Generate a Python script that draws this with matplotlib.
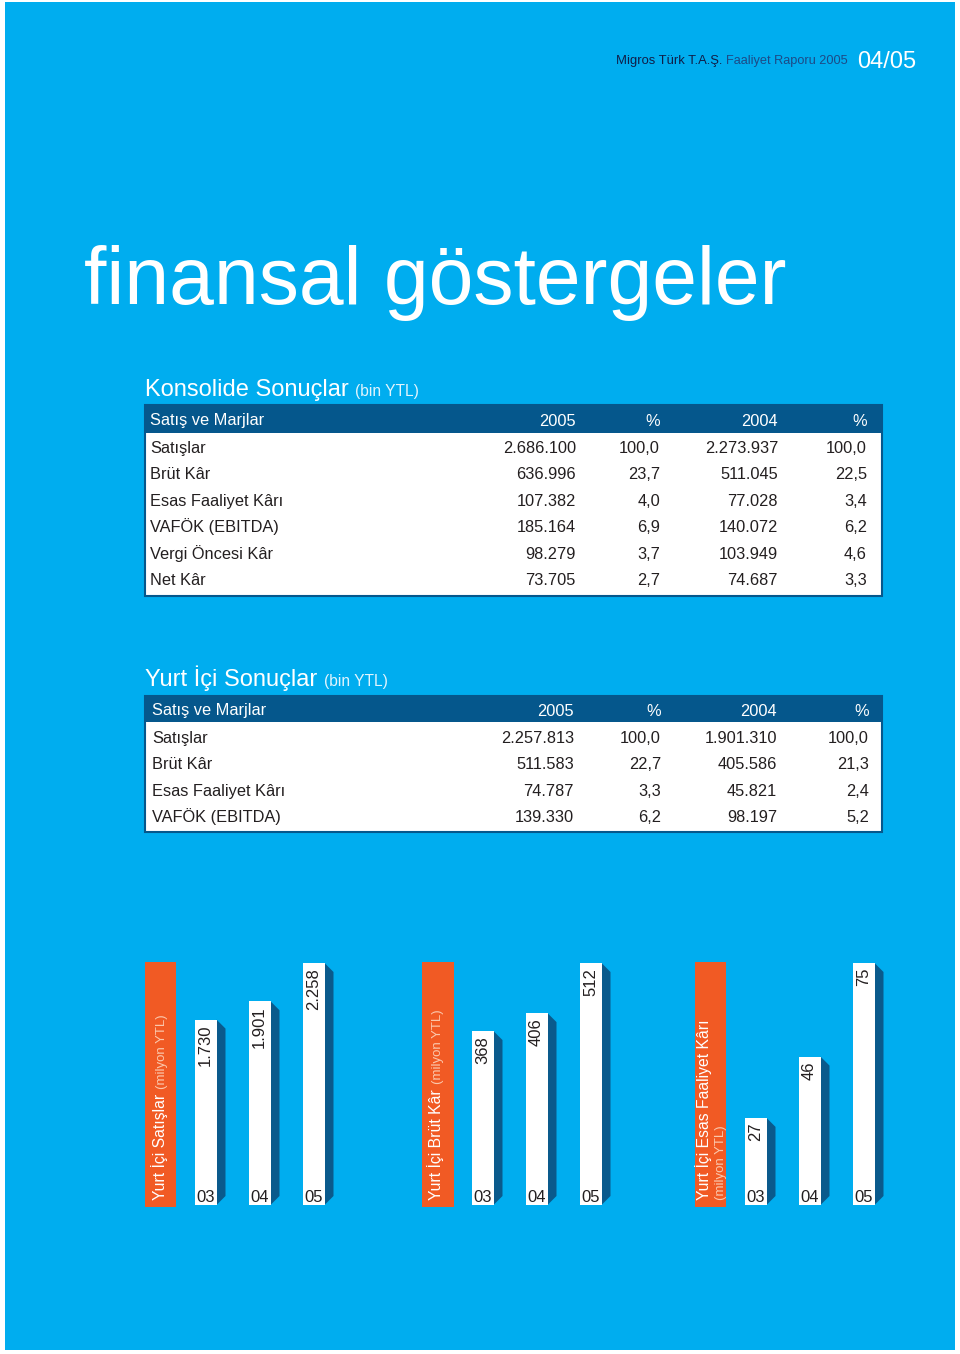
import matplotlib
matplotlib.use('Agg')
import matplotlib.pyplot as plt
from matplotlib.patches import Rectangle, Polygon

plt.rcParams['font.family'] = ['Liberation Sans', 'DejaVu Sans']

# --- data ---
header_cols = ['Satış ve Marjlar', '2005', '%', '2004', '%']

kons_rows = ['Satışlar', 'Brüt Kâr', 'Esas Faaliyet Kârı', 'VAFÖK (EBITDA)',
             'Vergi Öncesi Kâr', 'Net Kâr']
kons_2005 = ['2.686.100', '636.996', '107.382', '185.164', '98.279', '73.705']
kons_pct05 = ['100,0', '23,7', '4,0', '6,9', '3,7', '2,7']
kons_2004 = ['2.273.937', '511.045', '77.028', '140.072', '103.949', '74.687']
kons_pct04 = ['100,0', '22,5', '3,4', '6,2', '4,6', '3,3']

yurt_rows = ['Satışlar', 'Brüt Kâr', 'Esas Faaliyet Kârı', 'VAFÖK (EBITDA)']
yurt_2005 = ['2.257.813', '511.583', '74.787', '139.330']
yurt_pct05 = ['100,0', '22,7', '3,3', '6,2']
yurt_2004 = ['1.901.310', '405.586', '45.821', '98.197']
yurt_pct04 = ['100,0', '21,3', '2,4', '5,2']

years = ['03', '04', '05']
sales = [1730, 1901, 2258]
sales_lbl = ['1.730', '1.901', '2.258']
gross = [368, 406, 512]
gross_lbl = ['368', '406', '512']
ebit = [27, 46, 75]
ebit_lbl = ['27', '46', '75']

# --- colours ---
BLUE = '#00adef'
DARK = '#05578c'
SHADOW = '#0a5a8c'
ORANGE = '#f15a24'
TXT = '#231f20'

W, H = 960, 1354
fig = plt.figure(figsize=(W / 100, H / 100), dpi=100, facecolor='white')
ax = fig.add_axes([0, 0, 1, 1])
ax.set_xlim(0, W)
ax.set_ylim(H, 0)
ax.axis('off')
ax.add_patch(Rectangle((5, 2), 950, 1348, fc=BLUE, ec='none'))

fig.canvas.draw()
rend = fig.canvas.get_renderer()


def text_run(x, y, parts, ha='left'):
    # place pieces of text one after another on one baseline
    items = []
    for s, size, color in parts:
        t = ax.text(0, y, s, fontsize=size, color=color, va='baseline', ha='left')
        items.append((t, t.get_window_extent(renderer=rend).width))
    total = sum(w for _, w in items)
    cx = x - total if ha == 'right' else x
    for t, w in items:
        t.set_x(cx)
        cx += w


# top right header
text_run(848, 64, [('Migros Türk T.A.Ş. ', 9.4, '#101e48'),
                   ('Faaliyet Raporu 2005', 9.2, '#1d4a86')], ha='right')
ax.text(916, 68, '04/05', fontsize=17, color='white', ha='right', va='baseline')

# big title
ax.text(84, 304, 'finansal göstergeler', fontsize=58, color='white',
        ha='left', va='baseline')


def draw_table(title_y, top, bottom, hdr_h, first_row, row_h, label_x, col_x, rows, c1, c2, c3, c4):
    text_run(145, title_y, [('Konsolide Sonuçlar ' if len(rows) > 4 else 'Yurt İçi Sonuçlar ', 17, 'white'),
                            ('(bin YTL)', 11.2, '#e2f4fd')])
    ax.add_patch(Rectangle((145, top), 737, bottom - top, fc='white', ec=DARK, lw=1.5))
    ax.add_patch(Rectangle((145, top), 737, hdr_h, fc=DARK, ec='none'))
    hy = top + hdr_h / 2 + 6.5
    ax.text(label_x, hy, header_cols[0], fontsize=11.8, color='white', va='baseline')
    for cx, s in zip(col_x, header_cols[1:]):
        ax.text(cx, hy, s, fontsize=11.8, color='white', ha='right', va='baseline')
    for i, name in enumerate(rows):
        ry = first_row + i * row_h + 6
        ax.text(label_x, ry, name, fontsize=11.8, color=TXT, va='baseline')
        for cx, col in zip(col_x, [c1, c2, c3, c4]):
            ax.text(cx, ry, col[i], fontsize=11.8, color=TXT, ha='right', va='baseline')


draw_table(396, 405, 596, 28, 447, 26.4, 150, [576, 660, 778, 867],
           kons_rows, kons_2005, kons_pct05, kons_2004, kons_pct04)
draw_table(686, 696, 832, 26, 737, 26.3, 152, [574, 661, 777, 869],
           yurt_rows, yurt_2005, yurt_pct05, yurt_2004, yurt_pct04)


# --- bar charts ---
BASE, TOP = 1205, 963
SPACING = 54


def orange_label(x0, x1, main_lines, base_x, sub_x):
    ax.add_patch(Rectangle((x0, 962), x1 - x0, 245, fc=ORANGE, ec='none'))
    y0 = 1200
    t = ax.text(base_x, y0, main_lines, fontsize=11.3, color='white', rotation=90,
                rotation_mode='anchor', ha='left', va='baseline')
    if sub_x is None:
        length = t.get_window_extent(renderer=rend).height
        ax.text(base_x, y0 - length - 5, '(milyon YTL)', fontsize=9.5, color='#fbc8ad',
                rotation=90, rotation_mode='anchor', ha='left', va='baseline')
    else:
        ax.text(sub_x, y0, '(milyon YTL)', fontsize=9.5, color='#fbc8ad',
                rotation=90, rotation_mode='anchor', ha='left', va='baseline')


def bar_chart(center0, values, labels):
    left = center0 - SPACING / 2
    bax = fig.add_axes([left / W, (H - BASE) / H, 3 * SPACING / W, (BASE - TOP) / H])
    bax.set_xlim(-0.5, 2.5)
    vmax = max(values)
    bax.set_ylim(0, vmax)
    bax.axis('off')
    bw = 22 / SPACING
    dx = 9 / SPACING
    dy = vmax * 9 / (BASE - TOP)
    x = list(range(len(values)))
    for i, v in zip(x, values):
        xr = i + bw / 2
        bax.add_patch(Polygon([(xr, v), (xr + dx, v - dy), (xr + dx, dy), (xr, 0)],
                              closed=True, fc=SHADOW, ec='none', clip_on=False))
    bax.bar(x, values, width=bw, color='white', edgecolor='none', clip_on=False, zorder=2)
    for i, v, s, yr in zip(x, values, labels, years):
        bax.annotate(s, xy=(i, v), xytext=(0, -3.5), textcoords='offset points',
                     rotation=90, ha='center', va='top', fontsize=12, color=TXT, zorder=3)
        bax.annotate(yr, xy=(i, 0), xytext=(0, 2), textcoords='offset points',
                     ha='center', va='baseline', fontsize=12, color=TXT, zorder=3)


orange_label(145, 176, 'Yurt İçi Satışlar', 165, None)
orange_label(422, 454, 'Yurt İçi Brüt Kâr', 441, None)
orange_label(695, 726, 'Yurt İçi Esas Faaliyet Kârı', 709, 724)

bar_chart(205.5, sales, sales_lbl)
bar_chart(482.5, gross, gross_lbl)
bar_chart(755.5, ebit, ebit_lbl)

fig.savefig('out.png', dpi=100, facecolor='white')
